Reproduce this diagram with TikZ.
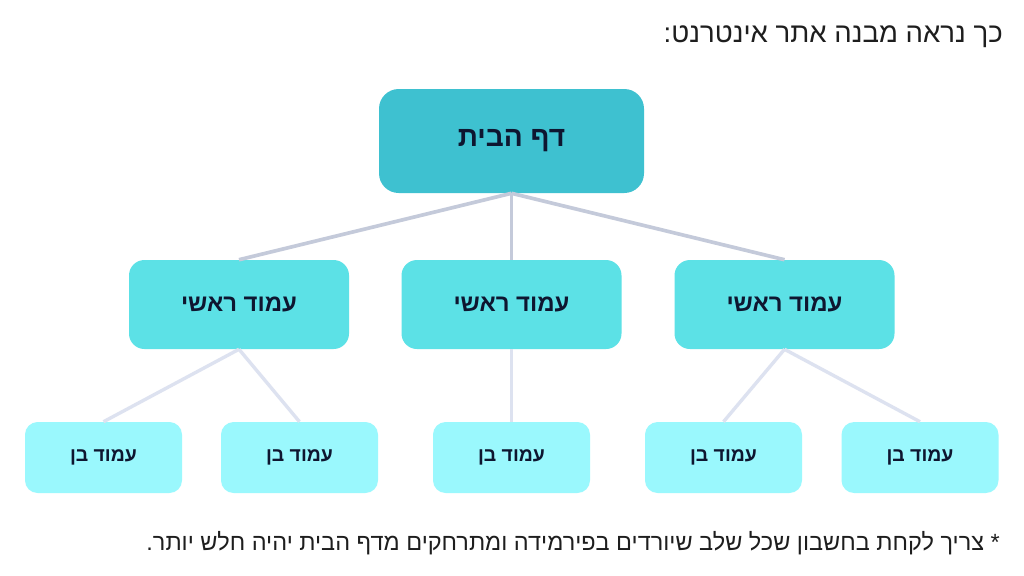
\documentclass[tikz,border=0pt]{standalone}
\usepackage{fontspec}
\usepackage{xcolor}
\usepackage{tikz}
\usetikzlibrary{positioning}
\TeXXeTstate=1
\newfontfamily\hebfont[Script=Hebrew]{Liberation Sans}
\definecolor{rootfill}{HTML}{3EC1D0}
\definecolor{mainfill}{HTML}{5CE1E6}
\definecolor{childfill}{HTML}{9AF8FD}
\definecolor{labelink}{HTML}{0E1630}
\definecolor{textink}{HTML}{1E1E1E}
\definecolor{upline}{HTML}{C4CADA}
\definecolor{lowline}{HTML}{DDE2F0}
\tikzset{
  rootpage/.style={fill=rootfill, rounded corners=14pt, minimum width=265*0.025cm, minimum height=104*0.025cm, font=\hebfont\bfseries\fontsize{20}{24}\selectfont, text=labelink},
  mainpage/.style={fill=mainfill, rounded corners=11pt, minimum width=220*0.025cm, minimum height=89*0.025cm, font=\hebfont\bfseries\fontsize{17}{20}\selectfont, text=labelink},
  childpage/.style={fill=childfill, rounded corners=9pt, minimum width=157*0.025cm, minimum height=71*0.025cm, font=\hebfont\bfseries\fontsize{13.8}{16}\selectfont, text=labelink},
  uplink/.style={draw=upline, line width=2.6pt},
  lowlink/.style={draw=lowline, line width=2.4pt},
  note/.style={font=\hebfont\fontsize{16.7}{19}\selectfont, text=textink, inner sep=0pt}
}
\begin{document}
\begin{tikzpicture}[x=0.025cm, y=-0.025cm]
  \useasboundingbox[fill=white] (0,0) rectangle (1024,575);

  \node[note, anchor=east, font=\hebfont\fontsize{19.6}{22}\selectfont] (title) at (1003,37) {\beginR כך נראה מבנה אתר אינטרנט:\endR};

  \node[rootpage] (home) at (511.5,141) {\beginR דף הבית\endR};

  \node[mainpage] (mainL) at (239,304.5) {\beginR עמוד ראשי\endR};
  \node[mainpage] (mainM) at (511.5,304.5) {\beginR עמוד ראשי\endR};
  \node[mainpage] (mainR) at (784.5,304.5) {\beginR עמוד ראשי\endR};

  \node[childpage] (childA) at (103.5,457.5) {\beginR עמוד בן\endR};
  \node[childpage] (childB) at (299.5,457.5) {\beginR עמוד בן\endR};
  \node[childpage] (childC) at (511.5,457.5) {\beginR עמוד בן\endR};
  \node[childpage] (childD) at (723.5,457.5) {\beginR עמוד בן\endR};
  \node[childpage] (childE) at (920,457.5) {\beginR עמוד בן\endR};

  \node[note, anchor=east] (footnote) at (1000,543) {\beginR * צריך לקחת בחשבון שכל שלב שיורדים בפירמידה ומתרחקים מדף הבית יהיה חלש יותר.\endR};

  \draw[uplink] (home.south) -- (mainL.north);
  \draw[uplink] (home.south) -- (mainM.north);
  \draw[uplink] (home.south) -- (mainR.north);

  \draw[lowlink] (mainL.south) -- (childA.north);
  \draw[lowlink] (mainL.south) -- (childB.north);
  \draw[lowlink] (mainM.south) -- (childC.north);
  \draw[lowlink] (mainR.south) -- (childD.north);
  \draw[lowlink] (mainR.south) -- (childE.north);
\end{tikzpicture}
\end{document}
